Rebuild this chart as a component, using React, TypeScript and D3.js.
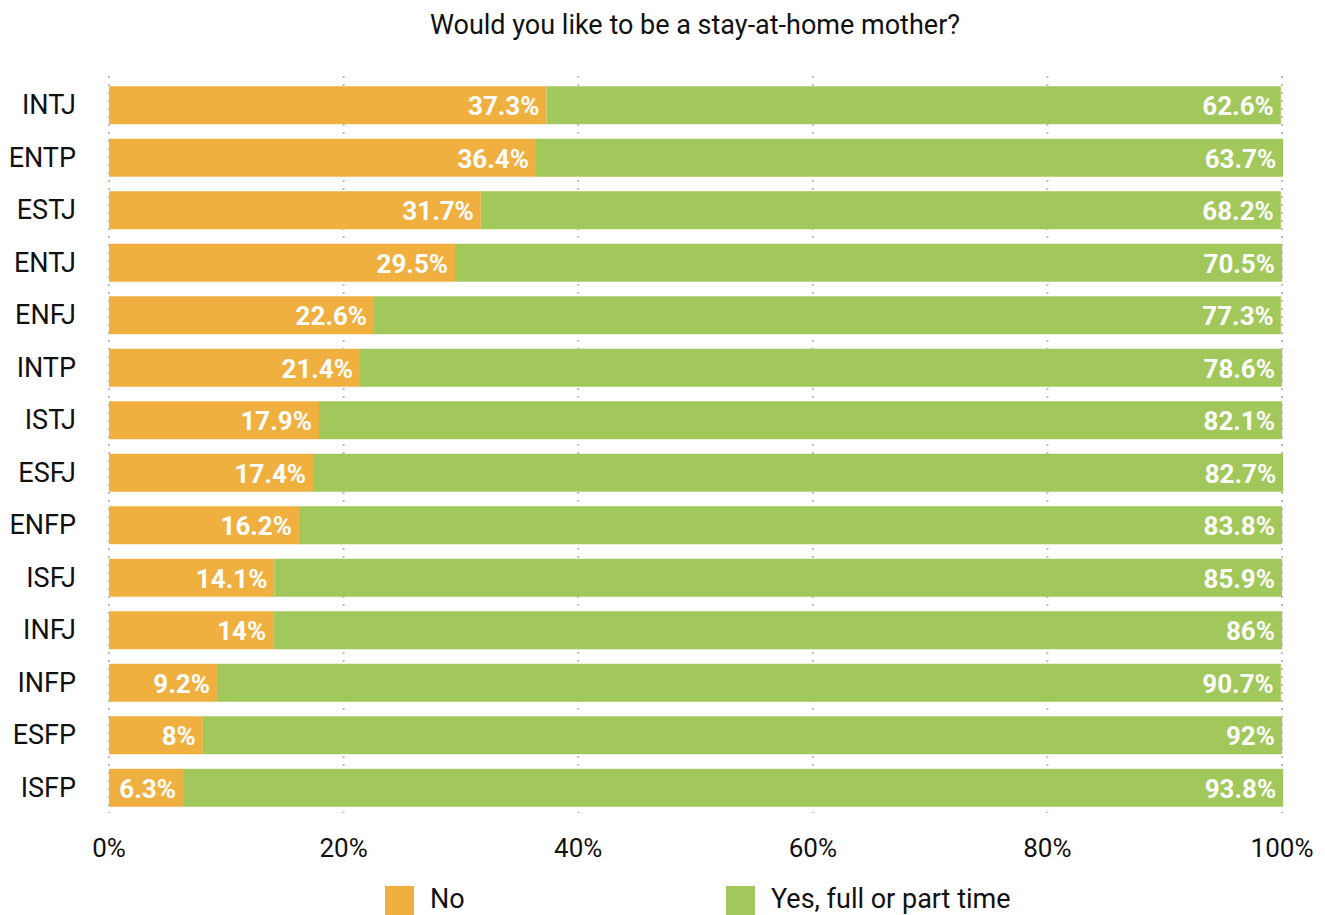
import React from "react";
import * as d3 from "d3";

const categories = ["INTJ", "ENTP", "ESTJ", "ENTJ", "ENFJ", "INTP", "ISTJ", "ESFJ", "ENFP", "ISFJ", "INFJ", "INFP", "ESFP", "ISFP"];
const noValues = [37.3, 36.4, 31.7, 29.5, 22.6, 21.4, 17.9, 17.4, 16.2, 14.1, 14, 9.2, 8, 6.3];
const yesValues = [62.6, 63.7, 68.2, 70.5, 77.3, 78.6, 82.1, 82.7, 83.8, 85.9, 86, 90.7, 92, 93.8];
const ticks = [0, 20, 40, 60, 80, 100];
const seriesNames = ["No", "Yes, full or part time"];
const colors = ["#EFB040", "#A2C75A"];
const title = "Would you like to be a stay-at-home mother?";

const W = 1325, H = 915;
const left = 109, right = 1282, gridTop = 76, gridBottom = 813;
const FONT = "Roboto, 'Noto Sans', sans-serif";

export default function App() {
  const x = d3.scaleLinear().domain([0, 100]).range([left, right]);
  const y = d3.scaleBand().domain(categories).range([81, 812]).paddingInner(0.277).paddingOuter(0.1);
  const bh = y.bandwidth();
  return (
    <svg width={W} height={H} style={{ position: "absolute", left: 0, top: 0, background: "#fff" }} fontFamily={FONT}>
      <text x={695} y={25} textAnchor="middle" dominantBaseline="central" fontSize={27} fill="#111">{title}</text>
      {ticks.map((t) => (
        <g key={t}>
          <line x1={x(t)} x2={x(t)} y1={gridTop} y2={gridBottom} stroke="#bdbdbd" strokeWidth={2} strokeDasharray="2 6" />
          <text x={x(t)} y={848} textAnchor="middle" dominantBaseline="central" fontSize={26} fill="#111">{t}%</text>
        </g>
      ))}
      {categories.map((c, i) => {
        const yy = y(c)!;
        const n = noValues[i], v = yesValues[i];
        return (
          <g key={c}>
            <text x={76} y={yy + bh / 2} textAnchor="end" dominantBaseline="central" fontSize={27} fill="#111">{c}</text>
            <rect x={x(0)} y={yy} width={x(n) - x(0)} height={bh} fill={colors[0]} />
            <rect x={x(n)} y={yy} width={x(n + v) - x(n)} height={bh} fill={colors[1]} />
            <text x={x(n) - 7} y={yy + bh / 2 + 1} textAnchor="end" dominantBaseline="central" fontSize={26} fontWeight="bold" fill="#fff">{n}%</text>
            <text x={x(n + v) - 7} y={yy + bh / 2 + 1} textAnchor="end" dominantBaseline="central" fontSize={26} fontWeight="bold" fill="#fff">{v}%</text>
          </g>
        );
      })}
      {seriesNames.map((s, i) => {
        const lx = i === 0 ? 385 : 726;
        return (
          <g key={s}>
            <rect x={lx} y={886} width={29} height={29} fill={colors[i]} />
            <text x={lx + 45} y={899} dominantBaseline="central" fontSize={27} fill="#111">{s}</text>
          </g>
        );
      })}
    </svg>
  );
}
